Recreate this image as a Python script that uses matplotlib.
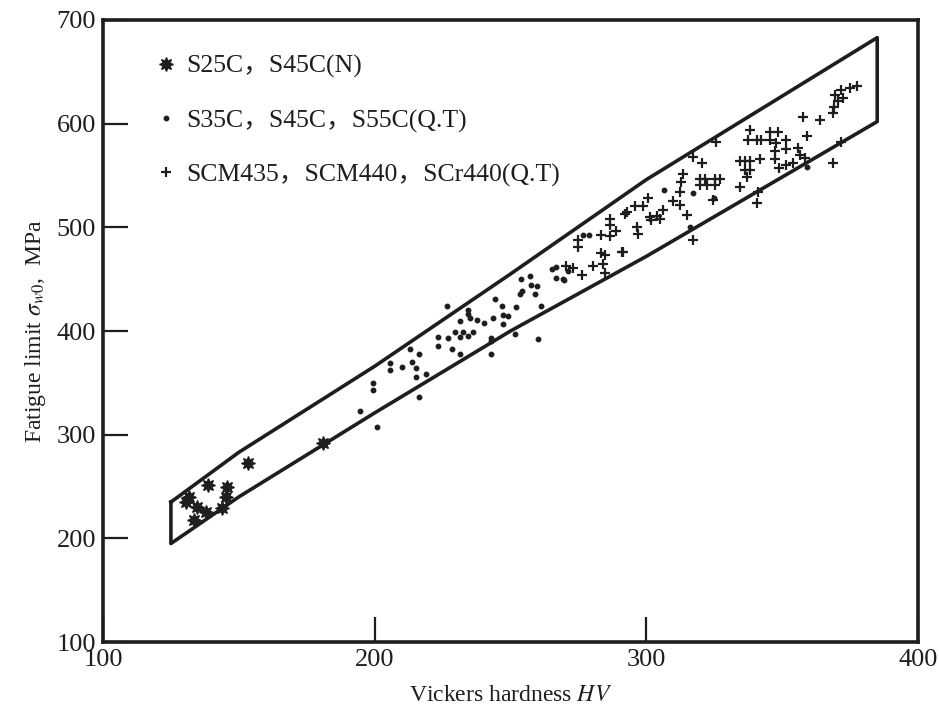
import matplotlib
matplotlib.use("Agg")
import matplotlib.pyplot as plt

# --- scatter band outline (HV, MPa) ---
upper_x = [125, 150, 200, 250, 300, 385]
upper_y = [235, 283, 366, 455, 546, 683]
lower_x = [125, 150, 200, 250, 300, 385]
lower_y = [195, 240, 321, 400, 472, 602]

# S25C, S45C (N)
n_hv = [130.5, 138.6, 145.6, 134.6, 137.9, 133.5, 143.8, 145.3, 153.4, 181.0, 131.5]
n_sw = [235, 251, 250, 230, 225, 218, 229, 240, 273, 292, 240]

# S35C, S45C, S55C (Q.T)
qt_hv = [199.5, 199.5, 194.6, 200.7, 216.3, 205.6, 205.6, 213.0, 216.3, 213.6,
         215.4, 215.2, 218.9, 210.0, 223.4, 223.4, 227.0, 228.3, 231.4, 229.6,
         232.6, 236.3, 231.4, 234.5, 234.5, 234.5, 231.4, 235.0, 237.5, 240.3,
         243.6, 247.3, 244.3, 247.0, 247.3, 249.2, 242.8, 242.8, 242.8, 251.6,
         252.2, 253.5, 254.3, 254.0, 257.2, 257.5, 259.6, 259.0, 261.4, 260.2,
         265.1, 266.9, 266.9, 269.7, 226.5, 269.4, 276.8, 279.0, 317.3, 306.5,
         316.0, 359.0, 325.0, 271.0]
qt_sw = [343, 350, 323, 307, 336, 369, 362, 383, 378, 370,
         364, 356, 359, 365, 394, 386, 393, 383, 378, 399,
         399, 399, 394, 395, 420, 416, 410, 413, 411, 408,
         413, 407, 431, 424, 415, 414, 393, 390, 378, 397,
         423, 436, 439, 450, 453, 444, 443, 436, 424, 392,
         460, 462, 451, 449, 424, 450, 493, 493, 533, 536,
         500, 558, 528, 458]

# SCM435, SCM440, SCr440 (Q.T)
cr_hv = [270.4, 273.1, 276.2, 280.5, 284.8, 284.1, 283.5, 290.9, 275.0, 275.0,
         283.5, 286.6, 289.0, 286.8, 286.6, 296.4, 297.0, 293.0, 295.8, 298.9,
         300.7, 301.3, 303.8, 306.2, 305.0, 309.9, 312.4, 314.8, 317.3, 312.4,
         313.6, 312.6, 317.3, 320.6, 319.7, 321.6, 325.3, 327.1, 319.7, 322.3,
         325.3, 324.6, 325.8, 334.4, 334.4, 336.3, 338.1, 336.3, 338.1, 336.9,
         338.1, 341.8, 341.2, 340.6, 337.5, 340.6, 342.4, 345.5, 345.5, 348.5,
         347.9, 351.6, 347.3, 351.6, 347.3, 351.6, 355.9, 356.5, 359.0, 358.4,
         357.8, 363.9, 368.8, 368.8, 371.8, 369.0, 370.5, 369.5, 371.5, 372.5,
         375.0, 377.4, 291.5, 284.8, 301.9, 292.0, 349.0, 354.0]
cr_sw = [463, 461, 454, 463, 456, 465, 475, 476, 488, 481,
         493, 492, 496, 502, 508, 500, 494, 515, 521, 521,
         528, 510, 511, 517, 508, 525, 522, 512, 488, 534,
         551, 544, 568, 562, 547, 547, 547, 547, 541, 541,
         541, 526, 582, 539, 564, 564, 564, 555, 555, 549,
         594, 566, 534, 523, 584, 584, 584, 584, 592, 592,
         581, 584, 574, 576, 566, 560, 577, 570, 588, 567,
         606, 604, 610, 562, 582, 616, 622, 628, 632, 625,
         634, 636, 476, 473, 507, 513, 557, 562]

plt.rcParams['font.family'] = ['Liberation Serif', 'DejaVu Serif']
plt.rcParams['mathtext.fontset'] = 'stix'

ink = '#1e1e1e'
fig = plt.figure(figsize=(9.39, 7.14), dpi=100)
ax = fig.add_axes([0.1097, 0.1008, 0.8679, 0.8712])

# band outline
ax.plot(upper_x + lower_x[::-1] + [upper_x[0]],
        upper_y + lower_y[::-1] + [upper_y[0]],
        color=ink, lw=2.6, zorder=2)

ax.plot(n_hv, n_sw, ls='none', marker=(8, 1, 0), ms=10, color=ink,
        mec=ink, label='S25C，S45C(N)', zorder=3)
ax.plot(qt_hv, qt_sw, ls='none', marker='o', ms=3.2, color=ink,
        label='S35C，S45C，S55C(Q.T)', zorder=3)
ax.plot(cr_hv, cr_sw, ls='none', marker='+', ms=7, mew=1.6, color=ink,
        label='SCM435，SCM440，SCr440(Q.T)', zorder=3)

ax.set_xlim(100, 400)
ax.set_ylim(100, 700)
ax.set_xticks([100, 200, 300, 400])
ax.set_yticks([100, 200, 300, 400, 500, 600, 700])
ax.tick_params(direction='in', length=18, width=1.6, labelsize=19,
               colors=ink, pad=5)
for s in ax.spines.values():
    s.set_linewidth(2.6)
    s.set_color(ink)

ax.set_xlabel(r'Vickers hardness $HV$', fontsize=17, color=ink, labelpad=10)
ax.set_ylabel(r'Fatigue limit $\sigma_{w0}$,  MPa', fontsize=17, color=ink,
              labelpad=6)

leg = ax.legend(loc='upper left', frameon=False,
                handletextpad=0.3, handlelength=1.0, labelspacing=1.2,
                borderaxespad=0.6, bbox_to_anchor=(0.03, 0.985),
                prop={'family': ['Liberation Serif', 'Noto Sans CJK SC'], 'size': 18.5})
for t in leg.get_texts():
    t.set_color(ink)

fig.savefig('out.png', dpi=100)
